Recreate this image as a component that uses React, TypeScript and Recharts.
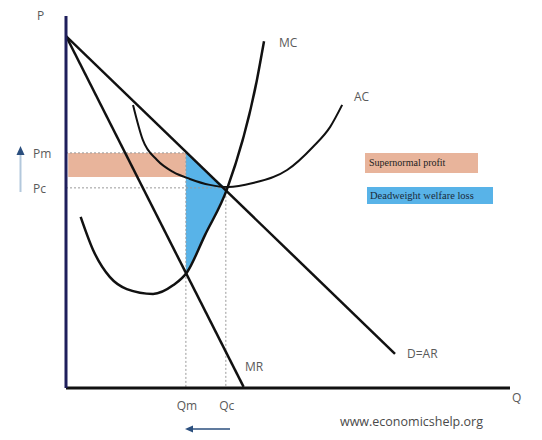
import { ComposedChart, Line, Area, XAxis, YAxis, ReferenceArea, ReferenceLine } from "recharts";

// quantity (q) and price (p) on a 0–100 scale
const demand = [
  { q: 0, p: 94.6 },
  { q: 74.1, p: 9.2 },
];
const marginalRevenue = [
  { q: 0, p: 94.6 },
  { q: 40, p: 0.3 },
];
const marginalCost = [
  { q: 3.3, p: 46.0 },
  { q: 6.1, p: 37.1 },
  { q: 9.9, p: 29.8 },
  { q: 13.7, p: 26.6 },
  { q: 19.6, p: 25.3 },
  { q: 24.1, p: 27.6 },
  { q: 27.3, p: 31.2 },
  { q: 31.3, p: 41.1 },
  { q: 36.3, p: 53.6 },
  { q: 43.0, p: 82.8 },
  { q: 44.6, p: 93.2 },
];
const averageCost = [
  { q: 15.1, p: 76.1 },
  { q: 17.3, p: 66.7 },
  { q: 20.5, p: 61.3 },
  { q: 24.1, p: 58.1 },
  { q: 27.9, p: 56.2 },
  { q: 32.4, p: 54.6 },
  { q: 36.5, p: 54.0 },
  { q: 42.1, p: 55.1 },
  { q: 49.8, p: 58.6 },
  { q: 55.6, p: 64.8 },
  { q: 59.5, p: 70.2 },
  { q: 62.2, p: 76.1 },
];
// deadweight loss: between MC (low) and demand (high), from Qm to Qc
const deadweightLoss = [
  { q: 27, band: [30.6, 63.5] },
  { q: 30, band: [37.9, 60.2] },
  { q: 33, band: [45.3, 56.8] },
  { q: 36.2, band: [53.4, 53.6] },
];

const priceTicks = [53.8, 63.2];
const priceNames = ["Pc", "Pm"];
const quantityTicks = [27, 36];
const quantityNames = ["Qm", "Qc"];
const Pm = 63.2;
const Pc = 53.8;
const Qm = 27;
const Qc = 36;
const profitFloor = 56.7;

const labelFont = "'Open Sans', 'Liberation Sans', sans-serif";
const grey = "#5a5a5a";

function PriceTick({ y, payload }: any) {
  const i = priceTicks.indexOf(payload.value);
  return (
    <text x={33} y={y + 5} fontSize={12} fill={grey} fontFamily={labelFont}>
      {priceNames[i]}
    </text>
  );
}

function QuantityTick({ x, payload }: any) {
  const i = quantityTicks.indexOf(payload.value);
  return (
    <text x={x + 1} y={410} fontSize={12} fill={grey} fontFamily={labelFont} textAnchor="middle">
      {quantityNames[i]}
    </text>
  );
}

export default function App() {
  return (
    <div style={{ position: "absolute", left: 0, top: 0, width: 542, height: 440, background: "#fff" }}>
      <ComposedChart
        width={542}
        height={440}
        data={deadweightLoss}
        margin={{ top: 16, right: 32, bottom: 22, left: 0 }}
      >
        <XAxis
          type="number"
          dataKey="q"
          domain={[0, 100]}
          ticks={quantityTicks}
          tick={<QuantityTick />}
          tickLine={false}
          axisLine={{ stroke: "#111", strokeWidth: 3 }}
          height={30}
          allowDataOverflow
        />
        <YAxis
          type="number"
          domain={[0, 100]}
          ticks={priceTicks}
          tick={<PriceTick />}
          tickLine={false}
          axisLine={{ stroke: "#1f1f5c", strokeWidth: 3 }}
          width={66}
          allowDataOverflow
        />
        <ReferenceArea x1={0.5} x2={Qm} y1={profitFloor} y2={Pm} fill="#e8b49b" fillOpacity={1} stroke="none" />
        <Area
          type="monotone"
          dataKey="band"
          stroke="none"
          fill="#58b3e8"
          fillOpacity={1}
          isAnimationActive={false}
        />
        <ReferenceLine segment={[{ x: 0, y: Pm }, { x: Qm, y: Pm }]} stroke="#9a9a9a" strokeDasharray="2 2" />
        <ReferenceLine segment={[{ x: 0, y: Pc }, { x: Qc, y: Pc }]} stroke="#9a9a9a" strokeDasharray="2 2" />
        <ReferenceLine segment={[{ x: Qm, y: Pm }, { x: Qm, y: 0 }]} stroke="#9a9a9a" strokeDasharray="2 2" />
        <ReferenceLine segment={[{ x: Qc, y: Pc }, { x: Qc, y: 0 }]} stroke="#9a9a9a" strokeDasharray="2 2" />
        <Line data={demand} dataKey="p" type="linear" stroke="#111" strokeWidth={2.5} dot={false} isAnimationActive={false} />
        <Line data={marginalRevenue} dataKey="p" type="linear" stroke="#111" strokeWidth={2.5} dot={false} isAnimationActive={false} />
        <Line data={marginalCost} dataKey="p" type="monotone" stroke="#111" strokeWidth={2.5} dot={false} isAnimationActive={false} />
        <Line data={averageCost} dataKey="p" type="monotone" stroke="#111" strokeWidth={2} dot={false} isAnimationActive={false} />
      </ComposedChart>
      <svg
        width={542}
        height={440}
        style={{ position: "absolute", left: 0, top: 0, pointerEvents: "none" }}
        fontFamily={labelFont}
      >
        <text x={37} y={20} fontSize={12} fill={grey}>P</text>
        <text x={512} y={402} fontSize={12} fill={grey}>Q</text>
        <text x={279} y={47} fontSize={12} fill={grey}>MC</text>
        <text x={354} y={101} fontSize={12} fill={grey}>AC</text>
        <text x={245} y={371} fontSize={12} fill={grey}>MR</text>
        <text x={407} y={358} fontSize={12} fill={grey}>D=AR</text>
        <text x={340} y={426} fontSize={12.5} fill="#4a4a4a">www.economicshelp.org</text>

        <rect x={365} y={153} width={113} height={20} fill="#e8b49b" />
        <text x={369} y={166} fontSize={10} fill="#222" fontFamily="'Liberation Serif', serif">Supernormal profit</text>
        <rect x={367} y={187} width={126} height={17} fill="#58b3e8" />
        <text x={370} y={199} fontSize={10.5} fill="#1a2a3a" fontFamily="'Liberation Serif', serif">Deadweight welfare loss</text>

        <line x1={20.5} y1={192} x2={20.5} y2={153} stroke="#b3c8dc" strokeWidth={2} />
        <polygon points="16.5,155 20.5,146 24.5,155" fill="#2b4f7e" />
        <line x1={191} y1={429} x2={230} y2={429} stroke="#2b4f7e" strokeWidth={1.5} />
        <polygon points="185,429 193,425.5 193,432.5" fill="#2b4f7e" />
      </svg>
    </div>
  );
}
